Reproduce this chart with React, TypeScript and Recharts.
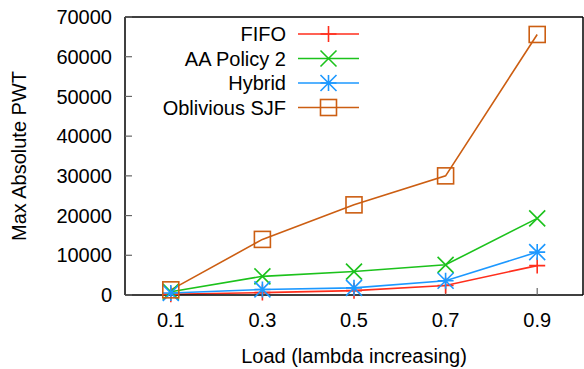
import React from 'react';
import { LineChart, Line, XAxis, YAxis, Legend } from 'recharts';

const loads = [0.1, 0.3, 0.5, 0.7, 0.9];
const fifo = [200, 600, 1100, 2400, 7400];
const aaPolicy2 = [800, 4700, 5900, 7600, 19300];
const hybrid = [500, 1400, 1800, 3600, 10800];
const obliviousSJF = [1300, 14000, 22700, 30000, 65600];

const xTicks = [0.1, 0.3, 0.5, 0.7, 0.9];
const yTicks = [0, 10000, 20000, 30000, 40000, 50000, 60000, 70000];

const seriesNames = ['FIFO', 'AA Policy 2', 'Hybrid', 'Oblivious SJF'];
const seriesKeys = ['fifo', 'aa', 'hybrid', 'sjf'];
const seriesColors = ['#ff2e1c', '#1cc21c', '#1c98ff', '#cc5e12'];
const seriesMarkers = ['plus', 'cross', 'star', 'square'];

const data = loads.map((x, i) => ({
  x,
  fifo: fifo[i],
  aa: aaPolicy2[i],
  hybrid: hybrid[i],
  sjf: obliviousSJF[i],
}));

const FONT = '"Liberation Sans", Arial, Helvetica, sans-serif';
const S = 8;

function Marker({ kind, cx, cy, color }: { kind: string; cx: number; cy: number; color: string }) {
  const sw = 1.6;
  if (kind === 'plus') {
    return (
      <path d={`M${cx - S},${cy}H${cx + S}M${cx},${cy - S}V${cy + S}`} stroke={color} strokeWidth={sw} fill="none" />
    );
  }
  if (kind === 'cross') {
    return (
      <path d={`M${cx - S},${cy - S}L${cx + S},${cy + S}M${cx - S},${cy + S}L${cx + S},${cy - S}`} stroke={color} strokeWidth={sw} fill="none" />
    );
  }
  if (kind === 'star') {
    return (
      <path
        d={`M${cx - S},${cy}H${cx + S}M${cx},${cy - S}V${cy + S}M${cx - S},${cy - S}L${cx + S},${cy + S}M${cx - S},${cy + S}L${cx + S},${cy - S}`}
        stroke={color}
        strokeWidth={sw}
        fill="none"
      />
    );
  }
  return <rect x={cx - S} y={cy - S} width={2 * S} height={2 * S} stroke={color} strokeWidth={sw} fill="none" />;
}

function makeDot(kind: string, color: string) {
  return (props: any) => {
    const { cx, cy, index } = props;
    if (cx == null || cy == null) return <g key={index} />;
    return (
      <g key={`${kind}-${index}`}>
        <Marker kind={kind} cx={cx} cy={cy} color={color} />
      </g>
    );
  };
}

function LegendContent() {
  const rowY = [34, 58.5, 83, 107.5];
  return (
    <svg width={584} height={130} style={{ display: 'block' }}>
      {seriesNames.map((name, i) => (
        <g key={name}>
          <text x={286} y={rowY[i]} textAnchor="end" dominantBaseline="central" fontFamily={FONT} fontSize={20} fill="#000">
            {name}
          </text>
          <line x1={298} x2={359} y1={rowY[i]} y2={rowY[i]} stroke={seriesColors[i]} strokeWidth={1.6} />
          <Marker kind={seriesMarkers[i]} cx={328.5} cy={rowY[i]} color={seriesColors[i]} />
        </g>
      ))}
    </svg>
  );
}

export default function App() {
  return (
    <div style={{ position: 'absolute', left: 0, top: 0, width: 584, height: 369, background: '#fff' }}>
      <LineChart width={584} height={369} data={data} margin={{ top: 0, right: 0, bottom: 0, left: 0 }}>
        <XAxis
          dataKey="x"
          type="number"
          domain={[0, 1]}
          ticks={xTicks}
          tickFormatter={(v: number) => v.toFixed(1)}
          height={74}
          tickSize={-7}
          tickMargin={25}
          axisLine={{ stroke: '#000', strokeWidth: 1.5 }}
          tickLine={{ stroke: '#666', strokeWidth: 1.2 }}
          tick={{ fill: '#000', fontSize: 20, fontFamily: FONT }}
          label={{ value: 'Load (lambda increasing)', position: 'insideBottom', offset: 6, fill: '#000', fontSize: 20, fontFamily: FONT }}
        />
        <XAxis
          xAxisId="top"
          orientation="top"
          type="number"
          domain={[0, 1]}
          ticks={xTicks}
          height={17}
          tickSize={-7}
          tick={false}
          axisLine={{ stroke: '#000', strokeWidth: 1.5 }}
          tickLine={{ stroke: '#666', strokeWidth: 1.2 }}
        />
        <YAxis
          type="number"
          domain={[0, 70000]}
          ticks={yTicks}
          width={125}
          tickSize={-7}
          tickMargin={20}
          interval={0}
          axisLine={{ stroke: '#000', strokeWidth: 1.5 }}
          tickLine={{ stroke: '#666', strokeWidth: 1.2 }}
          tick={{ fill: '#000', fontSize: 20, fontFamily: FONT }}
          label={{ value: 'Max Absolute PWT', angle: -90, position: 'insideLeft', offset: 19, fill: '#000', fontSize: 20, fontFamily: FONT, style: { textAnchor: 'middle' } }}
        />
        <YAxis
          yAxisId="right"
          orientation="right"
          type="number"
          domain={[0, 70000]}
          ticks={yTicks}
          width={1}
          tickSize={-7}
          tick={false}
          axisLine={{ stroke: '#000', strokeWidth: 1.5 }}
          tickLine={{ stroke: '#666', strokeWidth: 1.2 }}
        />
        <Legend
          layout="horizontal"
          verticalAlign="middle"
          align="center"
          wrapperStyle={{ position: 'absolute', left: 0, top: 0, width: 584, height: 130 }}
          content={() => <LegendContent />}
        />
        {seriesKeys.map((k, i) => (
          <Line
            key={k}
            dataKey={k}
            name={seriesNames[i]}
            type="linear"
            stroke={seriesColors[i]}
            strokeWidth={1.6}
            dot={makeDot(seriesMarkers[i], seriesColors[i])}
            activeDot={false}
            isAnimationActive={false}
          />
        ))}
      </LineChart>
    </div>
  );
}
